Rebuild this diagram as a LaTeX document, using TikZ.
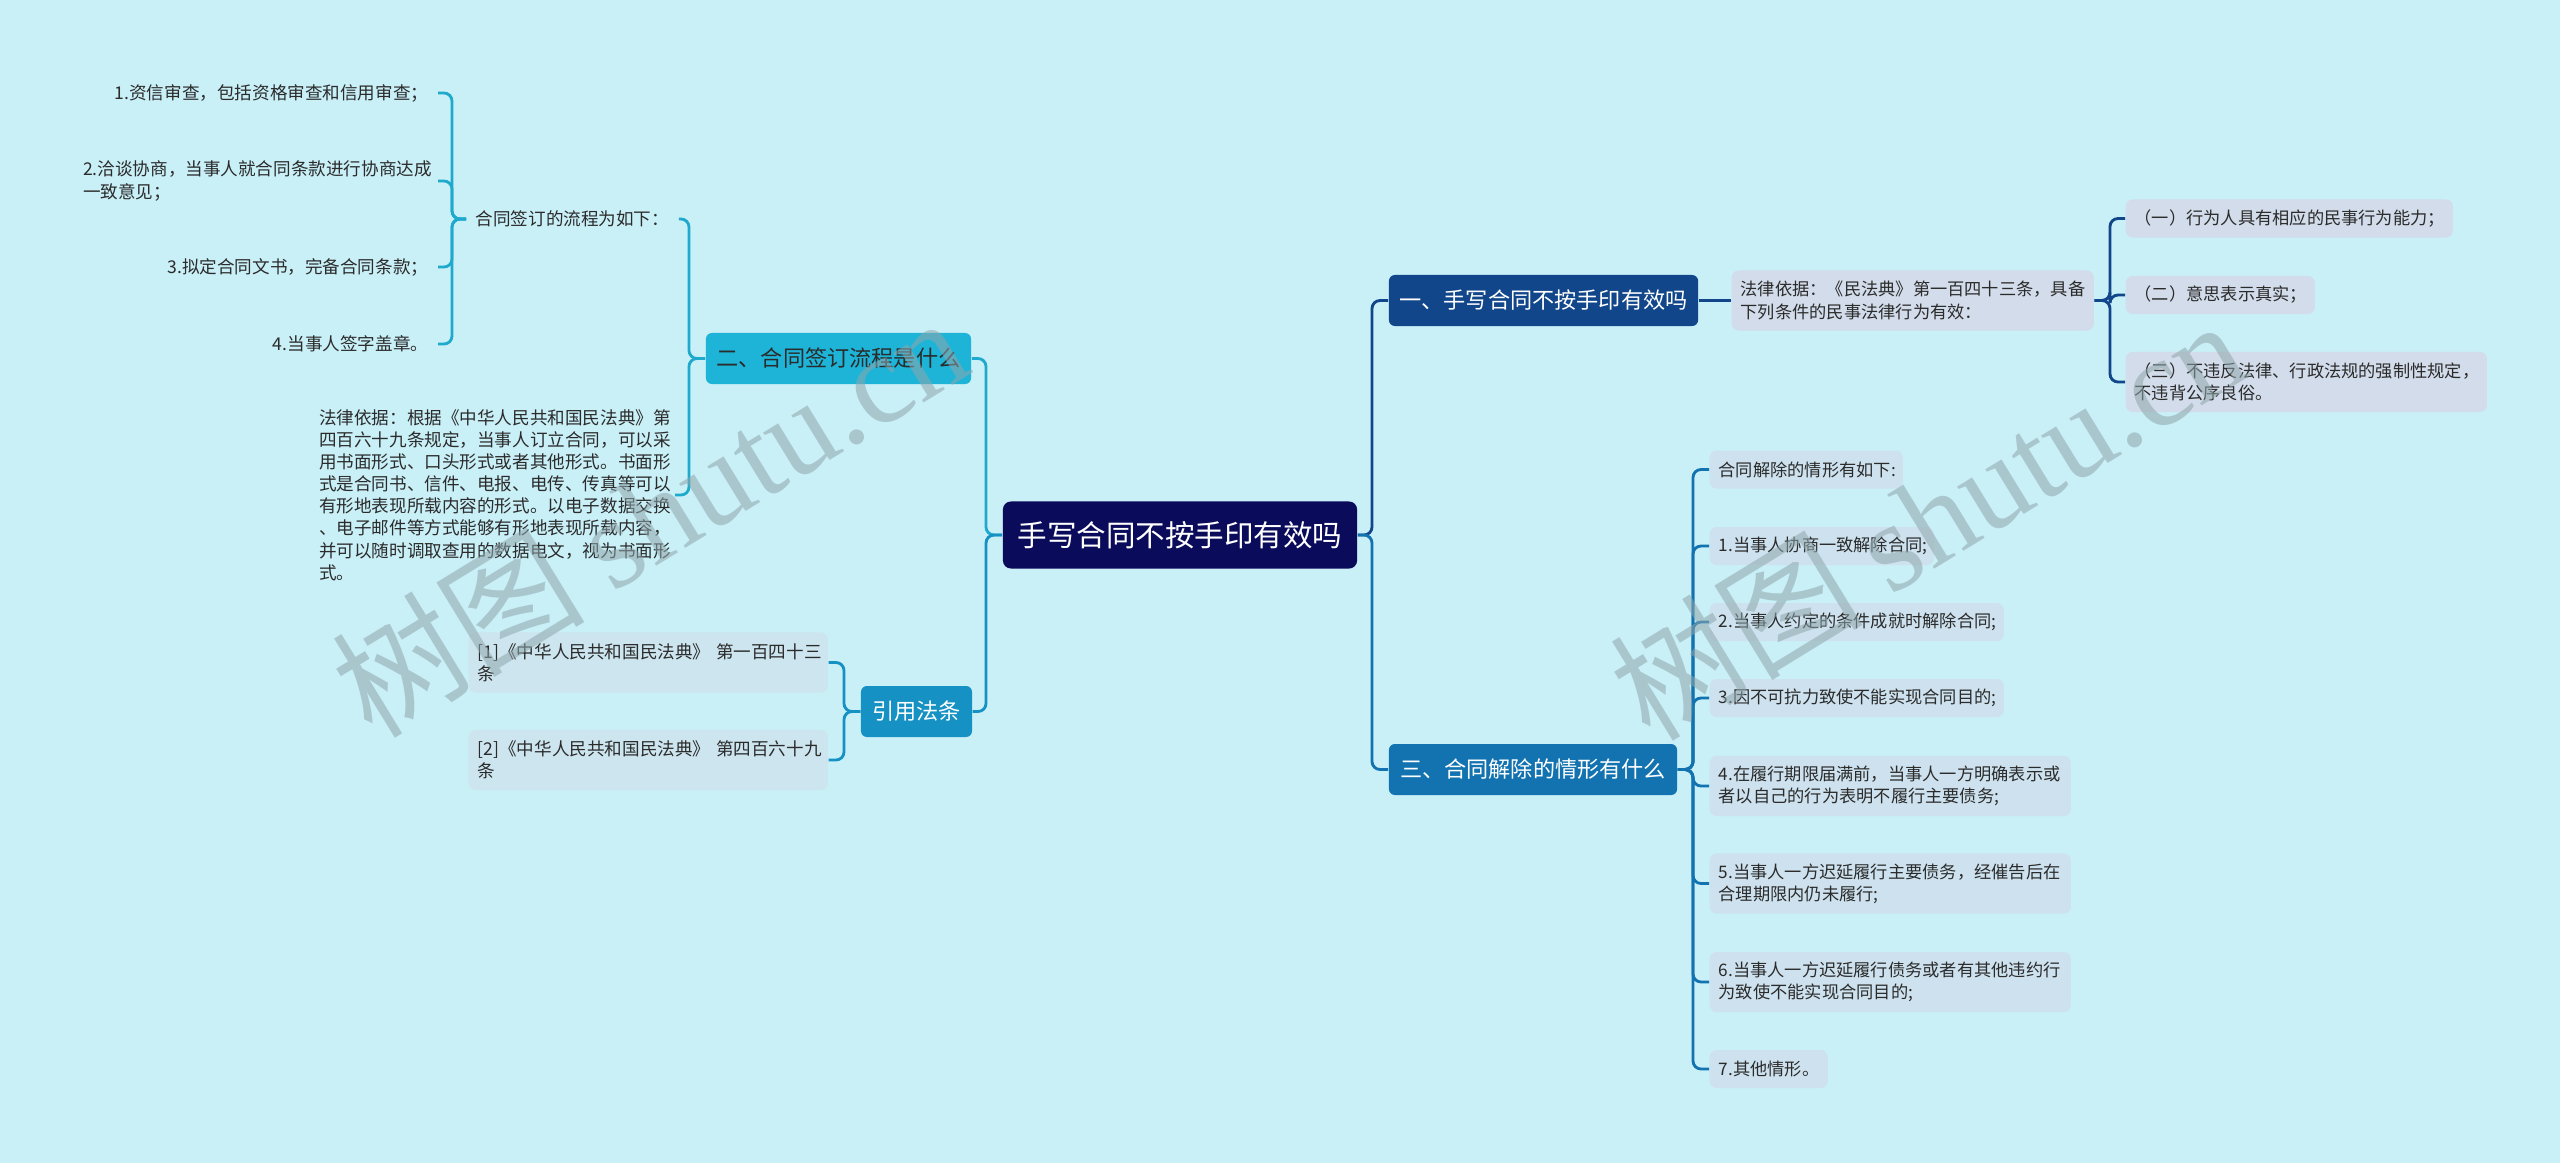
\documentclass[tikz,border=0pt]{standalone}
\usepackage{fontspec}
\setmainfont{Noto Sans CJK SC}
\newfontfamily\latinserif{Liberation Serif}
\usetikzlibrary{positioning}

\definecolor{bgcol}{HTML}{C9EFF7}
\definecolor{rootcol}{HTML}{0B0B5C}
\definecolor{navycol}{HTML}{12468A}
\definecolor{bluecol}{HTML}{1273B0}
\definecolor{cyancol}{HTML}{1DB4D8}
\definecolor{citecol}{HTML}{1592C3}
\definecolor{leafA}{HTML}{D2DCEA}
\definecolor{leafB}{HTML}{CDE2EE}
\definecolor{leafC}{HTML}{CDE5EF}
\definecolor{txtdark}{HTML}{2B2B2B}
\definecolor{cyanline}{HTML}{1FA9CD}
\definecolor{markcol}{HTML}{8FA6AC}

\newcommand{\rightfont}{\fontsize{4.9}{6.3}\selectfont}
\newcommand{\leftfont}{\fontsize{5.0}{6.3}\selectfont}
\newcommand{\branchfont}{\fontsize{6.3}{7.5}\selectfont}

\tikzset{
  topicbox/.style={fill=rootcol, text=white, rounded corners=0.08cm, inner sep=0pt,
    minimum width=3.54cm, minimum height=0.67cm, font=\fontsize{8.4}{10}\selectfont},
  branchbox/.style={fill=#1, text=white, rounded corners=0.06cm, inner sep=0pt,
    minimum height=0.51cm, font=\branchfont},
  leafbox/.style={fill=#1, text=txtdark, rounded corners=0.07cm, anchor=west, align=left,
    inner xsep=0.09cm, inner ysep=0pt, minimum height=0.38cm, font=\rightfont},
  tallbox/.style={minimum height=0.60cm},
  plaintext/.style={text=txtdark, font=\leftfont, inner xsep=0.09cm, inner ysep=0pt},
  link/.style={draw=#1, line width=0.8pt, rounded corners=0.08cm},
  wmark/.style={text=markcol, opacity=0.55, rotate=31.5, font=\fontsize{36}{36}\selectfont}
}

\begin{document}
\begin{tikzpicture}[x=0.01cm,y=-0.01cm]
  % Background
  \fill[bgcol] (0,0) rectangle (2560,1163);
  \useasboundingbox (0,0) rectangle (2560,1163);

  % Central topic and main branches
  \node[topicbox] (root) at (1180,535) {手写合同不按手印有效吗};
  \node[branchbox=navycol, minimum width=3.09cm] (one) at (1543.5,300.5) {一、手写合同不按手印有效吗};
  \node[branchbox=bluecol, minimum width=2.88cm] (three) at (1533,769.5) {三、合同解除的情形有什么};
  \node[branchbox=cyancol, minimum width=2.65cm, text=txtdark] (two) at (838.5,358.5) {二、合同签订流程是什么};
  \node[branchbox=citecol, minimum width=1.11cm] (cite) at (916.5,711.5) {引用法条};

  % Branch one
  \node[leafbox=leafA, text width=3.44cm, tallbox] (basis) at (1731,300.5)
    {法律依据：《民法典》第一百四十三条，具备\\下列条件的民事法律行为有效：};
  \node[leafbox=leafA, text width=3.09cm] (cond1) at (2125,218.5) {（一）行为人具有相应的民事行为能力；};
  \node[leafbox=leafA, text width=1.71cm] (cond2) at (2125,295) {（二）意思表示真实；};
  \node[leafbox=leafA, text width=3.43cm, tallbox] (cond3) at (2125,382)
    {（三）不违反法律、行政法规的强制性规定，\\不违背公序良俗。};

  % Branch three
  \node[leafbox=leafB, text width=1.75cm] (case0) at (1709,469.5) {合同解除的情形有如下:};
  \node[leafbox=leafB, text width=2.06cm] (case1) at (1709,546) {1.当事人协商一致解除合同;};
  \node[leafbox=leafB, text width=2.76cm] (case2) at (1709,622) {2.当事人约定的条件成就时解除合同;};
  \node[leafbox=leafB, text width=2.76cm] (case3) at (1709,698) {3.因不可抗力致使不能实现合同目的;};
  \node[leafbox=leafB, text width=3.43cm, tallbox] (case4) at (1709,786)
    {4.在履行期限届满前，当事人一方明确表示或\\者以自己的行为表明不履行主要债务;};
  \node[leafbox=leafB, text width=3.43cm, tallbox] (case5) at (1709,883.5)
    {5.当事人一方迟延履行主要债务，经催告后在\\合理期限内仍未履行;};
  \node[leafbox=leafB, text width=3.43cm, tallbox] (case6) at (1709,982)
    {6.当事人一方迟延履行债务或者有其他违约行\\为致使不能实现合同目的;};
  \node[leafbox=leafB, text width=1.00cm] (case7) at (1709,1069) {7.其他情形。};

  % Branch two
  \node[plaintext, anchor=west] (flow) at (466,219) {合同签订的流程为如下：};
  \node[plaintext, anchor=east, text width=3.46cm, align=left] (law) at (675,495)
    {法律依据：根据《中华人民共和国民法典》第\\四百六十九条规定，当事人订立合同，可以采\\用书面形式、口头形式或者其他形式。书面形\\式是合同书、信件、电报、电传、传真等可以\\有形地表现所载内容的形式。以电子数据交换\\、电子邮件等方式能够有形地表现所载内容，\\并可以随时调取查用的数据电文，视为书面形\\式。};
  \node[plaintext, anchor=east] (step1) at (438,93) {1.资信审查，包括资格审查和信用审查；};
  \node[plaintext, anchor=east, text width=3.45cm, align=left] (step2) at (438,181)
    {2.洽谈协商，当事人就合同条款进行协商达成\\一致意见；};
  \node[plaintext, anchor=east] (step3) at (438,267) {3.拟定合同文书，完备合同条款；};
  \node[plaintext, anchor=east] (step4) at (438,344) {4.当事人签字盖章。};

  % Cited articles
  \node[leafbox=leafC, text width=3.41cm, tallbox, font=\leftfont] (ref1) at (468,662.5)
    {\mbox{[1]《中华人民共和国民法典》 第一百四十三}\\条};
  \node[leafbox=leafC, text width=3.41cm, tallbox, font=\leftfont] (ref2) at (468,760)
    {\mbox{[2]《中华人民共和国民法典》 第四百六十九}\\条};

  % Trunk points
  \coordinate (rt) at (1372,535);
  \coordinate (lt) at (986,535);
  \coordinate (ot) at (2110,300);
  \coordinate (tt) at (1693,770);
  \coordinate (wt) at (689,358);
  \coordinate (ft) at (452,219);
  \coordinate (ct) at (844,711);

  % Connectors, right side
  \draw[link=navycol] (root.east) -- (root.east -| rt) |- (one.west);
  \draw[link=bluecol] (root.east) -- (root.east -| rt) |- (three.west);
  \draw[link=navycol] (one.east) -- (basis.west);
  \foreach \c in {cond1,cond2,cond3}
    \draw[link=navycol] (basis.east) -- (basis.east -| ot) |- (\c.west);
  \foreach \c in {case0,case1,case2,case3,case4,case5,case6,case7}
    \draw[link=bluecol] (three.east) -- (three.east -| tt) |- (\c.west);

  % Connectors, left side
  \draw[link=cyanline] (root.west) -- (root.west -| lt) |- (two.east);
  \draw[link=citecol] (root.west) -- (root.west -| lt) |- (cite.east);
  \foreach \c in {flow,law}
    \draw[link=cyanline] (two.west) -- (two.west -| wt) |- (\c.east);
  \foreach \c in {step1,step2,step3,step4}
    \draw[link=cyanline] (flow.west) -- (flow.west -| ft) |- (\c.east);
  \foreach \c in {ref1,ref2}
    \draw[link=citecol] (cite.west) -- (cite.west -| ct) |- (\c.east);

  % Watermark
  \node[wmark] (wm1) at (649,515) {树图 {\latinserif shutu.cn}};
  \node[wmark] (wm2) at (1927,518) {树图 {\latinserif shutu.cn}};
\end{tikzpicture}
\end{document}
